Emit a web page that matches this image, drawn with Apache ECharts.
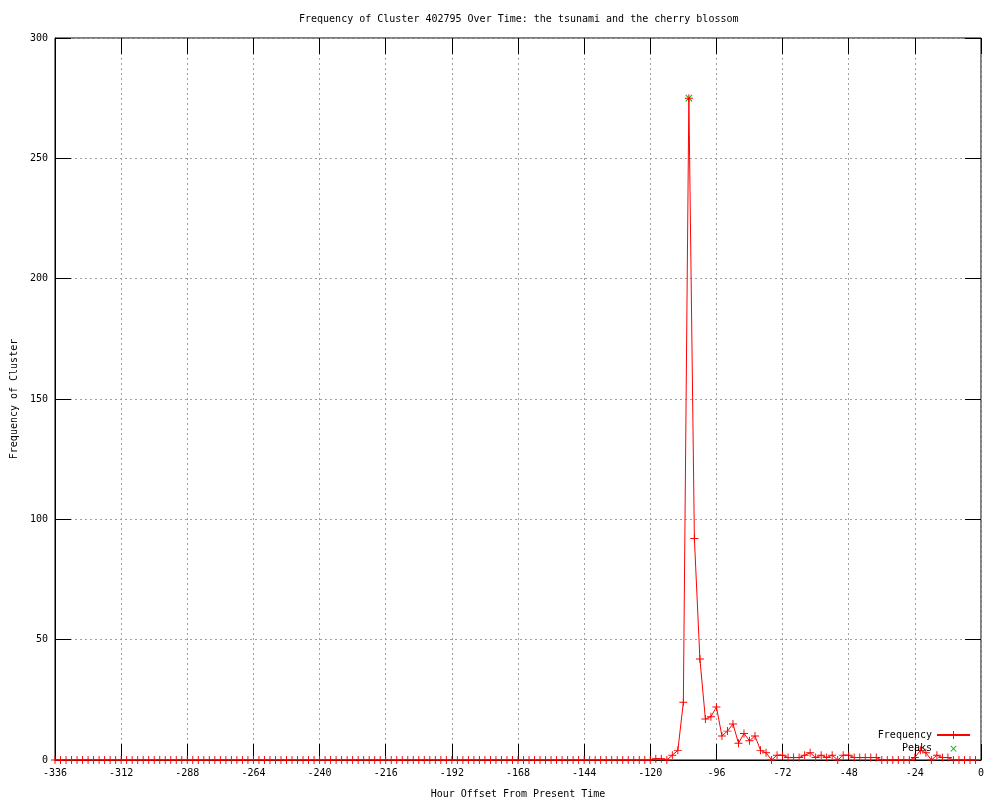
<!DOCTYPE html>
<html>
<head>
<meta charset="utf-8">
<script src="https://cdn.jsdelivr.net/npm/echarts@6/dist/echarts.min.js"></script>
<style>
html,body{margin:0;padding:0;background:#fff;}
#c{width:1000px;height:800px;}
</style>
</head>
<body>
<div id="c"></div>
<script>
// Hour offsets: -336 to -2, every 2 hours
var hourStart = -336;
var hourStep = 2;
// Frequency values, one per 2-hour step from -336 to -2
var frequency = [
  0,0,0,0,0,0,0,0,0,0,0,0,
  0,0,0,0,0,0,0,0,0,0,0,0,
  0,0,0,0,0,0,0,0,0,0,0,0,
  0,0,0,0,0,0,0,0,0,0,0,0,
  0,0,0,0,0,0,0,0,0,0,0,0,
  0,0,0,0,0,0,0,0,0,0,0,0,
  0,0,0,0,0,0,0,0,0,0,0,0,
  0,0,0,0,0,0,0,0,0,0,0,0,
  0,0,0,0,0,0,0,0,0,0,0,0,
  0,0.5,0.5,0,2,4,24,275,92,42,
  17,18,22,10,12,15,7,11,8,10,
  4,3,0,2,2,1,1,1,2,3,
  1,2,1,2,0,2,2,1,1,1,
  1,1,0,0,0,0,0,0,1,4,
  3,0,2,1,1,0,0,0,0,0
];
var peakHours = [-106];
var peakValues = [275];
var xTicks = {min: -336, max: 0, interval: 24};
var yTicks = {min: 0, max: 300, interval: 50};

var freqData = frequency.map(function (v, i) { return [hourStart + i * hourStep, v]; });
var peakData = peakHours.map(function (h, i) { return [h, peakValues[i]]; });

var FONT = '"DejaVu Sans Mono", "Liberation Mono", monospace';
var FS = 10;
var PLUS = 'path://M4.4,0H5.6V10H4.4ZM0,4.4H10V5.6H0Z';
var grid = {left: 55, right: 19, top: 38, bottom: 40, show: true, borderColor: '#000', borderWidth: 1,
            backgroundColor: 'transparent', outerBoundsMode: 'none', containLabel: false};
var split = {show: true, lineStyle: {color: '#a0a0a0', type: [2, 3], width: 1}};
var tick = {show: true, inside: true, length: 16, lineStyle: {color: '#000', width: 1}};

var chart = echarts.init(document.getElementById('c'), null, {renderer: 'canvas'});
chart.setOption({
  animation: false,
  backgroundColor: '#fff',
  title: {
    text: 'Frequency of Cluster 402795 Over Time: the tsunami and the cherry blossom',
    left: 294, top: 9,
    textStyle: {fontFamily: FONT, fontSize: FS, fontWeight: 'normal', color: '#000'}
  },
  grid: grid,
  legend: {
    orient: 'vertical', right: 24, top: 725, align: 'right',
    itemWidth: 33, itemHeight: 10, itemGap: 3,
    textStyle: {fontFamily: FONT, fontSize: FS, color: '#000', padding: [0, 0, 0, 0]},
    data: ['Frequency', 'Peaks']
  },
  xAxis: [{
    type: 'value', position: 'bottom', min: xTicks.min, max: xTicks.max, interval: xTicks.interval,
    name: 'Hour Offset From Present Time', nameLocation: 'middle', nameGap: 29,
    nameTextStyle: {fontFamily: FONT, fontSize: FS, color: '#000'},
    axisLine: {show: true, onZero: false, lineStyle: {color: '#000'}},
    axisTick: tick, splitLine: split,
    axisLabel: {fontFamily: FONT, fontSize: FS, color: '#000', margin: 8}
  }, {
    type: 'value', position: 'top', min: xTicks.min, max: xTicks.max, interval: xTicks.interval,
    axisLine: {show: false, onZero: false}, axisTick: tick, splitLine: {show: false}, axisLabel: {show: false}
  }],
  yAxis: [{
    type: 'value', position: 'left', min: yTicks.min, max: yTicks.max, interval: yTicks.interval,
    name: 'Frequency of Cluster', nameLocation: 'middle', nameGap: 36,
    nameTextStyle: {fontFamily: FONT, fontSize: FS, color: '#000'},
    axisLine: {show: true, onZero: false, lineStyle: {color: '#000'}},
    axisTick: tick, splitLine: split,
    axisLabel: {fontFamily: FONT, fontSize: FS, color: '#000', margin: 7}
  }, {
    type: 'value', position: 'right', min: yTicks.min, max: yTicks.max, interval: yTicks.interval,
    axisLine: {show: false, onZero: false}, axisTick: tick, splitLine: {show: false}, axisLabel: {show: false}
  }],
  series: [{
    name: 'Frequency', type: 'line', data: freqData,
    xAxisIndex: 0, yAxisIndex: 0,
    symbol: PLUS, symbolSize: 8, showAllSymbol: true,
    itemStyle: {color: '#ff0000'},
    lineStyle: {color: '#ff0000', width: 1},
    emphasis: {disabled: true}, z: 3
  }, {
    name: 'Peaks', type: 'line', data: peakData,
    xAxisIndex: 0, yAxisIndex: 0,
    symbol: PLUS, symbolSize: 9, symbolRotate: 45, showAllSymbol: true,
    itemStyle: {color: '#00c000'},
    lineStyle: {opacity: 0, width: 0},
    emphasis: {disabled: true}, z: 2
  }]
});
</script>
</body>
</html>
